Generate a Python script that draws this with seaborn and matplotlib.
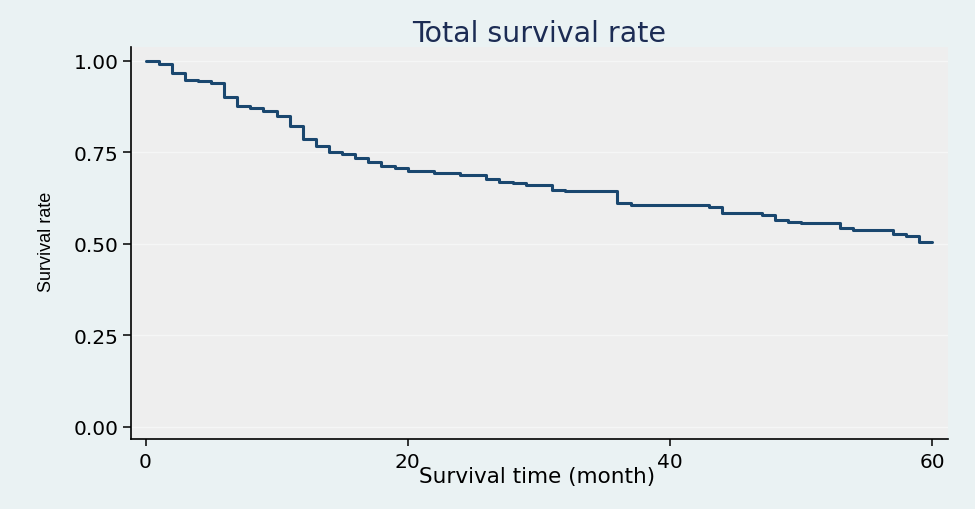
import matplotlib
matplotlib.use("Agg")
import matplotlib.pyplot as plt
import seaborn as sns
import pandas as pd

# Kaplan-Meier step data
months = [0, 1, 2, 3, 4, 5, 6, 7, 8, 9, 10, 11, 12, 13, 14, 15, 16, 17, 18, 19,
          20, 22, 24, 26, 27, 28, 29, 31, 32, 36, 37, 43, 44, 47, 48, 49, 50,
          53, 54, 57, 58, 59, 60]
survival = [1.000, 0.991, 0.966, 0.948, 0.944, 0.939, 0.900, 0.877, 0.872, 0.862,
            0.850, 0.821, 0.785, 0.768, 0.751, 0.746, 0.735, 0.723, 0.712, 0.706,
            0.700, 0.694, 0.688, 0.676, 0.670, 0.666, 0.660, 0.648, 0.643, 0.612,
            0.606, 0.600, 0.585, 0.579, 0.566, 0.560, 0.556, 0.543, 0.537, 0.526,
            0.521, 0.504, 0.504]
x_ticks = [0, 20, 40, 60]
y_ticks = [0.00, 0.25, 0.50, 0.75, 1.00]
y_tick_labels = ["0.00", "0.25", "0.50", "0.75", "1.00"]

title = "Total survival rate"
x_label = "Survival time (month)"
y_label = "Survival rate"

df = pd.DataFrame({"month": months, "survival": survival})

sns.set_style("ticks")
plt.rcParams["font.family"] = ["DejaVu Sans"]

W, H = 975, 510
fig = plt.figure(figsize=(W / 100, H / 100), dpi=100, facecolor="#eaf2f3")
ax = fig.add_axes([131 / W, 1 - 440 / H, 817 / W, 392 / H])
ax.set_facecolor("#eeeeee")

sns.lineplot(data=df, x="month", y="survival", ax=ax, estimator=None,
             drawstyle="steps-post", color="#1a476f", linewidth=2.2)

ax.set_xlim(-1.106, 61.21)
ax.set_ylim(-0.0328, 1.0374)

ax.set_xticks(x_ticks)
ax.set_yticks(y_ticks)
ax.set_yticklabels(y_tick_labels)
ax.tick_params(axis="x", length=5, width=1.1, pad=4, labelsize=14.5, colors="black")
ax.tick_params(axis="y", length=5.5, width=1.1, pad=3.5, labelsize=14.5, colors="black")

ax.grid(axis="y", color="#f5f6f6", linewidth=1.0)
ax.grid(axis="x", visible=False)
ax.set_axisbelow(True)

for s in ["top", "right"]:
    ax.spines[s].set_visible(False)
for s in ["left", "bottom"]:
    ax.spines[s].set_color("black")
    ax.spines[s].set_linewidth(1.2)

ax.set_xlabel(x_label, fontsize=15.5, color="black")
ax.xaxis.set_label_coords((537.5 - 131) / 817, -(467 - 440) / 392)
ax.xaxis.label.set_va("top")

ax.set_ylabel(y_label, fontsize=13, color="black", family=["Liberation Sans", "DejaVu Sans"])
ax.yaxis.set_label_coords((46.7 - 131) / 817, (440 - 242) / 392)
ax.yaxis.label.set_va("center")
ax.yaxis.label.set_ha("center")

fig.text(539.5 / W, 1 - 42.3 / H, title, ha="center", va="baseline",
         fontsize=20.5, color="#1c2c54")

fig.savefig("out.png", dpi=100, facecolor=fig.get_facecolor())
